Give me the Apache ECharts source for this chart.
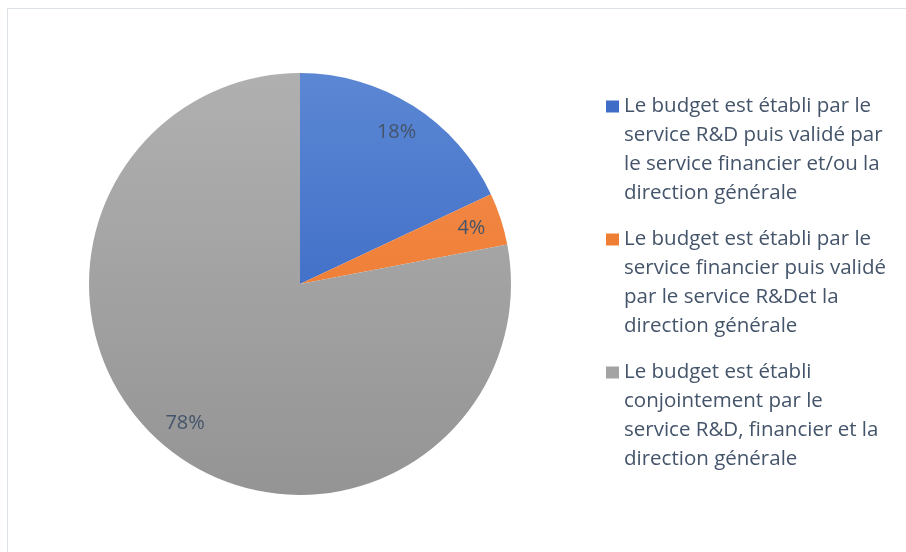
<!DOCTYPE html>
<html><head><meta charset="utf-8">
<script src="https://cdn.jsdelivr.net/npm/echarts@6/dist/echarts.min.js"></script>
<style>html,body{margin:0;padding:0;background:#fff}#c{width:906px;height:552px}</style>
</head><body><div id="c"></div>
<script>
const categories = [
  "Le budget est établi par le service R&D puis validé par le service financier et/ou la direction générale",
  "Le budget est établi par le service financier puis validé par le service R&Det la direction générale",
  "Le budget est établi conjointement par le service R&D, financier et la direction générale"
];
const legendLines = [
  ["Le budget est établi par le", "service R&D puis validé par", "le service financier et/ou la", "direction générale"],
  ["Le budget est établi par le", "service financier puis validé", "par le service R&Det la", "direction générale"],
  ["Le budget est établi", "conjointement par le", "service R&D, financier et la", "direction générale"]
];
const values = [18, 4, 78];
const labels = ["18%", "4%", "78%"];
const colorsTop = ["#5b87d3", "#f28c50", "#b0b0b0"];
const colorsBottom = ["#2c5cbf", "#ee7420", "#949494"];
const markerColors = ["#3f6cc6", "#ef7e35", "#a3a3a3"];

const FONT = "Open Sans";
const TEXTCOL = "#44546a";
const CX = 300, CY = 284, R = 211;
const LH = 29;

function grad(i) {
  return new echarts.graphic.LinearGradient(0, CY - R, 0, CY + R, [
    {offset: 0, color: colorsTop[i]}, {offset: 1, color: colorsBottom[i]}
  ], true);
}

const chart = echarts.init(document.getElementById('c'));
const rich = {
  t: {fontFamily: FONT, fontSize: 20.5, color: TEXTCOL, lineHeight: LH},
  i: {width: 18, height: 13, lineHeight: LH}
};
categories.forEach((c, i) => {
  rich['m' + i] = {width: 13, height: 12, backgroundColor: markerColors[i]};
});
rich.g = {width: 5, height: 12};

chart.setOption({
  animation: false,
  backgroundColor: '#fff',
  graphic: [{
    type: 'rect', silent: true, z: -1,
    shape: {x: 7.5, y: 8.5, width: 1000, height: 1000},
    style: {fill: 'none', stroke: '#dde2e8', lineWidth: 1}
  }],
  legend: {
    orient: 'vertical',
    left: 601, top: 92,
    padding: 0,
    itemGap: 17,
    icon: 'none',
    itemWidth: 0, itemHeight: 0,
    selectedMode: false,
    data: categories,
    formatter: function (name) {
      const i = categories.indexOf(name);
      const ls = legendLines[i];
      return ls.map((l, k) => (k === 0 ? '{m' + i + '|}{g|}' : '{i|}') + '{t|' + l + '}').join('\n');
    },
    textStyle: {rich: rich, lineHeight: LH, fontFamily: FONT, fontSize: 20.5, color: TEXTCOL}
  },
  series: [{
    type: 'pie',
    center: [CX, CY],
    radius: [0, R],
    startAngle: 90,
    clockwise: true,
    silent: true,
    label: {show: false},
    labelLine: {show: false},
    data: categories.map((c, i) => ({name: c, value: values[i], itemStyle: {color: grad(i)}}))
  }, {
    type: 'pie',
    center: [CX, CY],
    radius: [0, R * 1.68],
    startAngle: 90,
    clockwise: true,
    silent: true,
    itemStyle: {color: 'rgba(0,0,0,0)'},
    emphasis: {disabled: true},
    label: {
      show: true, position: 'inside',
      fontFamily: FONT, fontSize: 20, color: TEXTCOL,
      formatter: p => labels[p.dataIndex]
    },
    data: categories.map((c, i) => ({name: c, value: values[i]}))
  }]
});
</script></body></html>
